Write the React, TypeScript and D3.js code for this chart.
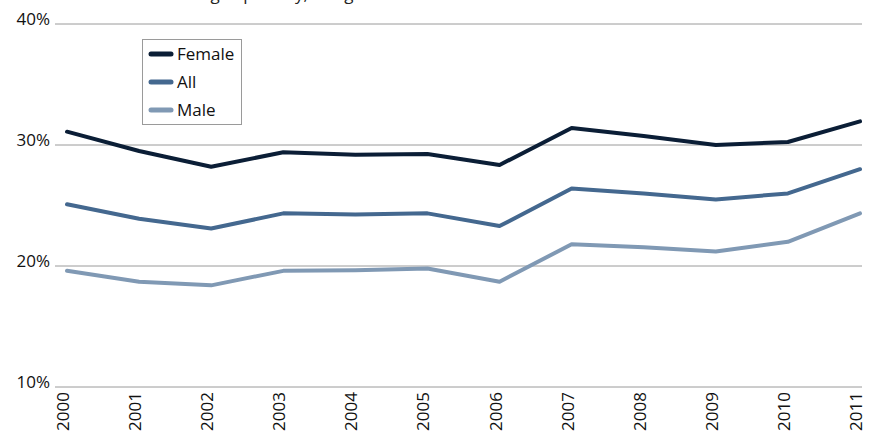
import * as d3 from "d3";

const years = ["2000", "2001", "2002", "2003", "2004", "2005", "2006", "2007", "2008", "2009", "2010", "2011"];
const female = [31.1, 29.5, 28.2, 29.4, 29.2, 29.25, 28.35, 31.4, 30.75, 30.0, 30.25, 31.95];
const all = [25.1, 23.9, 23.1, 24.35, 24.25, 24.35, 23.3, 26.4, 26.0, 25.5, 26.0, 28.0];
const male = [19.6, 18.7, 18.4, 19.6, 19.65, 19.8, 18.7, 21.8, 21.55, 21.2, 22.0, 24.35];
const yTicks = [10, 20, 30, 40];
const title = "Share of workers living in poverty, all ages";

const series = [
  { name: "Female", values: female, color: "#0b1e36" },
  { name: "All", values: all, color: "#44688f" },
  { name: "Male", values: male, color: "#8099b4" },
];

const W = 869;
const H = 435;
const font = "'Open Sans', 'Noto Sans', sans-serif";

export default function App() {
  const x = d3.scalePoint<string>().domain(years).range([67, 860]);
  const y = d3.scaleLinear().domain([10, 40]).range([387, 24]);
  const line = d3
    .line<number>()
    .x((_, i) => x(years[i]) as number)
    .y((d) => y(d));

  return (
    <svg
      width={W}
      height={H}
      style={{ position: "absolute", top: 0, left: 0, background: "#fff" }}
      fontFamily={font}
    >
      {/* title, only its bottom edge shows in the crop */}
      <text x={40} y={0} fontSize={17} fill="#222">
        {title}
      </text>

      {/* grid + y labels */}
      {yTicks.map((t) => (
        <g key={t}>
          <line x1={55} x2={862} y1={y(t)} y2={y(t)} stroke="#9a9a9a" strokeWidth={1} />
          <text x={50} y={y(t) + 1} textAnchor="end" fontSize={17} fill="#111">
            {t}%
          </text>
        </g>
      ))}

      {/* x labels */}
      {years.map((yr) => (
        <text
          key={yr}
          transform={`translate(${(x(yr) as number) + 2},392) rotate(-90)`}
          textAnchor="end"
          fontSize={17}
          fill="#111"
        >
          {yr}
        </text>
      ))}

      {/* lines */}
      {series.map((s) => (
        <path
          key={s.name}
          d={line(s.values) ?? ""}
          fill="none"
          stroke={s.color}
          strokeWidth={4}
          strokeLinejoin="round"
          strokeLinecap="round"
        />
      ))}

      {/* legend */}
      <rect x={142.5} y={39.5} width={99} height={85} fill="#fff" stroke="#9a9a9a" />
      {series.map((s, i) => (
        <g key={s.name} transform={`translate(0,${54 + i * 28})`}>
          <line x1={151} x2={171} y1={0} y2={0} stroke={s.color} strokeWidth={5} strokeLinecap="round" />
          <text x={177} y={6} fontSize={17} fill="#111">
            {s.name}
          </text>
        </g>
      ))}
    </svg>
  );
}
